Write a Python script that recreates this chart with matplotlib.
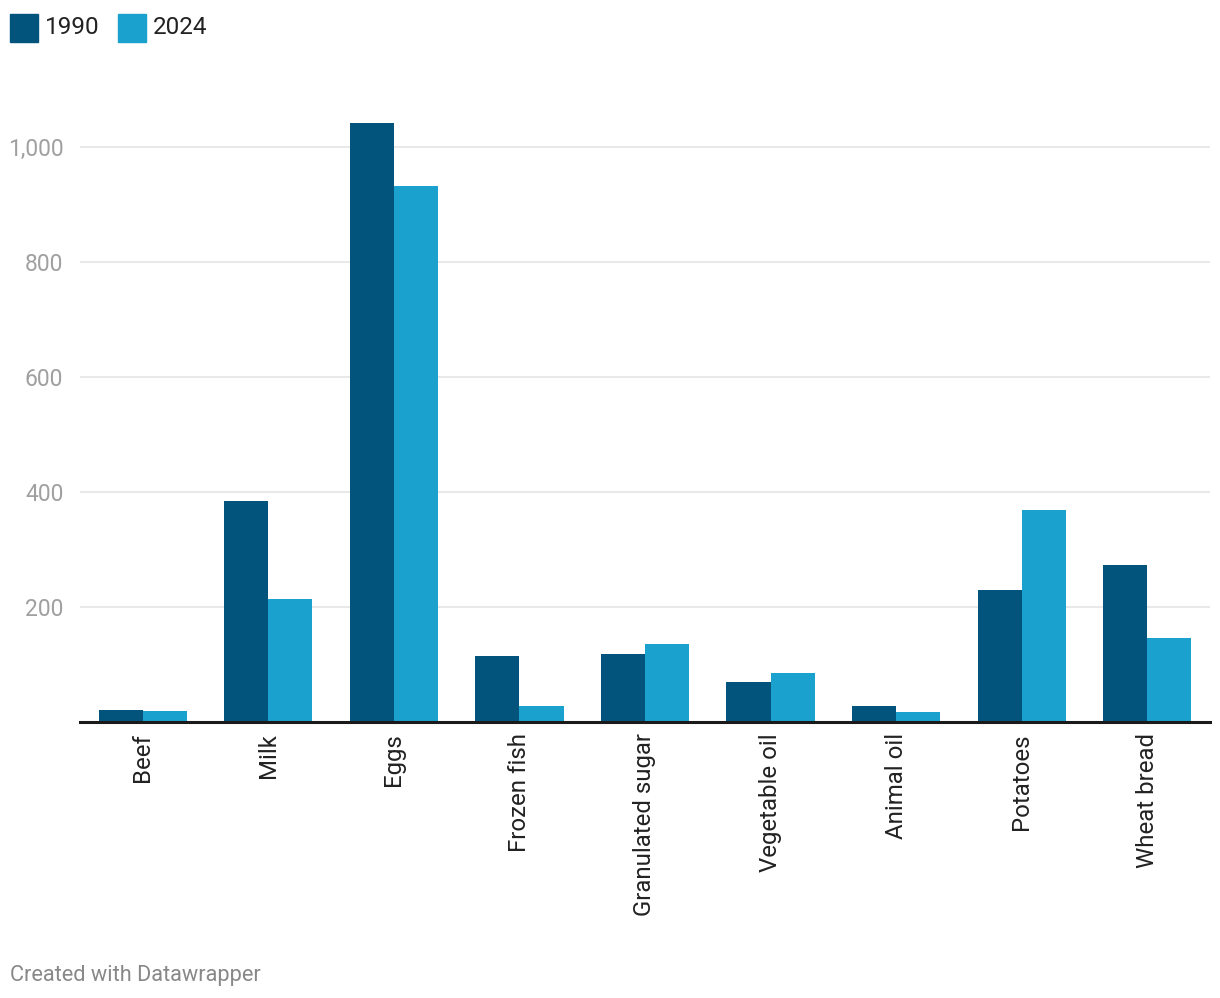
import matplotlib
matplotlib.use("Agg")
import matplotlib.pyplot as plt
import numpy as np
from matplotlib.patches import Rectangle

categories = ["Beef", "Milk", "Eggs", "Frozen fish", "Granulated sugar",
              "Vegetable oil", "Animal oil", "Potatoes", "Wheat bread"]
values_1990 = [21, 384, 1042, 115, 118, 70, 28, 230, 273]
values_2024 = [19, 214, 932, 28, 136, 85, 17, 369, 146]
series_names = ["1990", "2024"]
yticks = [200, 400, 600, 800, 1000]
ytick_labels = ["200", "400", "600", "800", "1,000"]

c1990 = "#02547c"
c2024 = "#1aa1ce"

plt.rcParams['font.family'] = ['Roboto', 'DejaVu Sans']

W, H = 1220, 998
fig = plt.figure(figsize=(W/100, H/100), dpi=100)
ax = fig.add_axes([80/W, (H-722)/H, (1210-80)/W, (722-100)/H])

x = np.arange(len(categories))
bw = 0.351
ax.bar(x - bw/2, values_1990, width=bw, color=c1990, zorder=3)
ax.bar(x + bw/2, values_2024, width=bw, color=c2024, zorder=3)

ax.set_xlim(-0.5, len(categories) - 0.5)
ax.set_ylim(0, (722-100)/0.575)

for t in yticks:
    ax.axhline(t, color="#e5e5e5", lw=1.2, zorder=1)
ax.axhline(0, color="#1a1a1a", lw=2.2, zorder=4, clip_on=False)

ax.set_yticks(yticks)
ax.set_yticklabels(ytick_labels, color="#a0a0a0", fontsize=16.5)
ax.tick_params(axis='y', length=0, pad=12)
ax.set_xticks(x)
ax.set_xticklabels(categories, rotation=90, color="#222222", fontsize=17.3, va='top')
ax.tick_params(axis='x', length=0, pad=8)
for s in ax.spines.values():
    s.set_visible(False)

# legend
for i, (name, col, xs) in enumerate(zip(series_names, [c1990, c2024], [10, 118])):
    fig.patches.append(Rectangle((xs/W, (H-42)/H), 28/W, 28/H, color=col,
                                 transform=fig.transFigure, figure=fig))
    fig.text((xs+35)/W, (H-28)/H, name, fontsize=17.5, color="#222222",
             va='center', ha='left')

fig.text(10/W, (H-975)/H, "Created with Datawrapper", fontsize=15.7,
         color="#888888", va='center', ha='left')

fig.savefig("out.png", dpi=100, facecolor="white")
